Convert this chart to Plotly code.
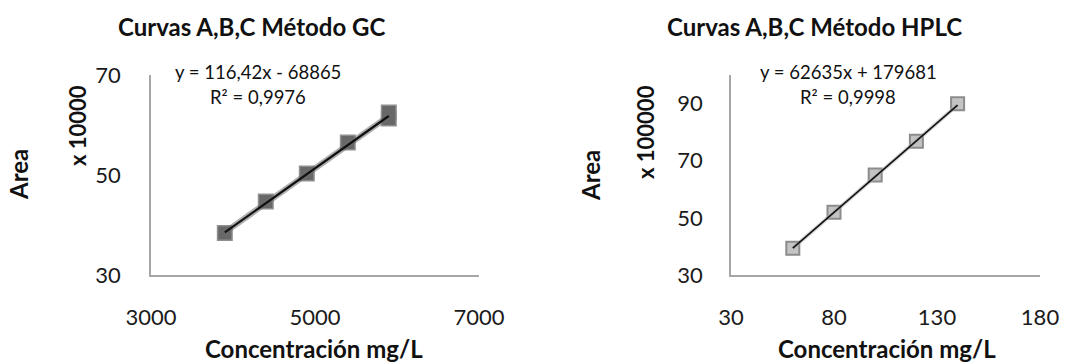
import plotly.graph_objects as go

# ---- data ----
gc_conc = [3900, 4400, 4900, 5400, 5900, 5900]          # mg/L
gc_area = [38.4, 44.7, 50.3, 56.5, 62.5, 61.3]          # x 10000
gc_slope, gc_intercept = 116.42, -68865                  # raw area units
gc_scale = 10000

hplc_conc = [60, 80, 100, 120, 140]                      # mg/L
hplc_area = [39.4, 52.0, 65.0, 76.8, 89.9]               # x 100000
hplc_slope, hplc_intercept = 62635, 179681
hplc_scale = 100000

gc_xticks = [3000, 5000, 7000]
gc_yticks = [30, 50, 70]
hplc_xticks = [30, 80, 130, 180]
hplc_yticks = [30, 50, 70, 90]

titles = ["Curvas A,B,C Método GC", "Curvas A,B,C Método HPLC"]
eq_texts = ["y = 116,42x - 68865", "y = 62635x + 179681"]
r2_texts = ["R² = 0,9976", "R² = 0,9998"]
y_units = ["x 10000", "x 100000"]

W, H = 1073, 362
FONT = "Lato"


def fx(x):
    return x / W


def fy(y):
    return 1 - y / H


fig = go.Figure()

# trend lines (from regression equations)
gc_line_x = [min(gc_conc), max(gc_conc)]
gc_line_y = [(gc_slope * x + gc_intercept) / gc_scale for x in gc_line_x]
hp_line_x = [min(hplc_conc), max(hplc_conc)]
hp_line_y = [(hplc_slope * x + hplc_intercept) / hplc_scale for x in hp_line_x]

# GC markers
fig.add_trace(go.Scatter(x=gc_conc, y=gc_area, mode="markers", xaxis="x", yaxis="y",
                         marker=dict(symbol="square", size=16, color="#8f8f8f",
                                     line=dict(width=0)), showlegend=False, hoverinfo="skip"))
fig.add_trace(go.Scatter(x=gc_conc, y=gc_area, mode="markers", xaxis="x", yaxis="y",
                         marker=dict(symbol="square", size=13, color="#686868",
                                     line=dict(width=0)), showlegend=False))
fig.add_trace(go.Scatter(x=gc_line_x, y=gc_line_y, mode="lines", xaxis="x", yaxis="y",
                         line=dict(color="rgba(110,110,110,0.55)", width=6),
                         showlegend=False, hoverinfo="skip"))
fig.add_trace(go.Scatter(x=gc_line_x, y=gc_line_y, mode="lines", xaxis="x", yaxis="y",
                         line=dict(color="#111111", width=2.2), showlegend=False))

# HPLC markers
fig.add_trace(go.Scatter(x=hplc_conc, y=hplc_area, mode="markers", xaxis="x2", yaxis="y2",
                         marker=dict(symbol="square", size=13, color="#c4c4c4",
                                     line=dict(width=2, color="#8c8c8c")),
                         showlegend=False))
fig.add_trace(go.Scatter(x=hp_line_x, y=hp_line_y, mode="lines", xaxis="x2", yaxis="y2",
                         line=dict(color="rgba(170,170,170,0.5)", width=4),
                         showlegend=False, hoverinfo="skip"))
fig.add_trace(go.Scatter(x=hp_line_x, y=hp_line_y, mode="lines", xaxis="x2", yaxis="y2",
                         line=dict(color="#111111", width=1.6), showlegend=False))

axis_common = dict(showgrid=False, zeroline=False, showline=True, linecolor="#a6a6a6",
                   linewidth=1.6, ticks="", automargin=False,
                   tickfont=dict(family=FONT, size=22, color="#1a1a1a"),
                   fixedrange=True)

ydom = [fy(275), fy(75)]

fig.update_layout(
    width=W, height=H,
    margin=dict(l=0, r=0, t=0, b=0, autoexpand=False),
    paper_bgcolor="white", plot_bgcolor="white",
    font=dict(family=FONT, color="#111111"),
    xaxis=dict(domain=[fx(151), fx(479)], range=[3000, 7000], tickvals=gc_xticks,
               anchor="y", ticklabelstandoff=22, **axis_common),
    yaxis=dict(domain=ydom, range=[30, 70], tickvals=gc_yticks, anchor="x",
               ticklabelstandoff=24, **axis_common),
    xaxis2=dict(domain=[fx(731), fx(1040)], range=[30, 180], tickvals=hplc_xticks,
                anchor="y2", ticklabelstandoff=22, **axis_common),
    yaxis2=dict(domain=ydom, range=[30, 100], tickvals=hplc_yticks, anchor="x2",
                ticklabelstandoff=22, **axis_common),
)

ann = []
# titles
for t, cx in zip(titles, [252, 814]):
    ann.append(dict(text=f"<b>{t}</b>", x=fx(cx), y=fy(26), xref="paper", yref="paper",
                    showarrow=False, xanchor="center", yanchor="middle",
                    font=dict(family=FONT, size=24, color="#111111")))
# equations
for e, r, cx in zip(eq_texts, r2_texts, [258, 848]):
    ann.append(dict(text=e, x=fx(cx), y=fy(72), xref="paper", yref="paper", showarrow=False,
                    xanchor="center", yanchor="middle",
                    font=dict(family=FONT, size=18.5, color="#111111")))
    ann.append(dict(text=r, x=fx(cx), y=fy(97), xref="paper", yref="paper", showarrow=False,
                    xanchor="center", yanchor="middle",
                    font=dict(family=FONT, size=18.5, color="#111111")))
# x-axis titles
for cx in [314, 887]:
    ann.append(dict(text="<b>Concentración mg/L</b>", x=fx(cx), y=fy(348), xref="paper",
                    yref="paper", showarrow=False, xanchor="center", yanchor="middle",
                    font=dict(family=FONT, size=24, color="#111111")))
# y-axis titles
for cx, cy in [(19, 175), (590, 176)]:
    ann.append(dict(text="<b>Area</b>", x=fx(cx), y=fy(cy), xref="paper", yref="paper",
                    showarrow=False, xanchor="center", yanchor="middle", textangle=-90,
                    font=dict(family=FONT, size=24, color="#111111")))
for u, cx, cy in zip(y_units, [77, 646], [126, 132]):
    ann.append(dict(text=f"<b>{u}</b>", x=fx(cx), y=fy(cy), xref="paper", yref="paper",
                    showarrow=False, xanchor="center", yanchor="middle", textangle=-90,
                    font=dict(family=FONT, size=22, color="#111111")))

fig.update_layout(annotations=ann)
fig.write_html("out.html", config={"displayModeBar": False},
               post_script="document.body.style.margin='0';")
